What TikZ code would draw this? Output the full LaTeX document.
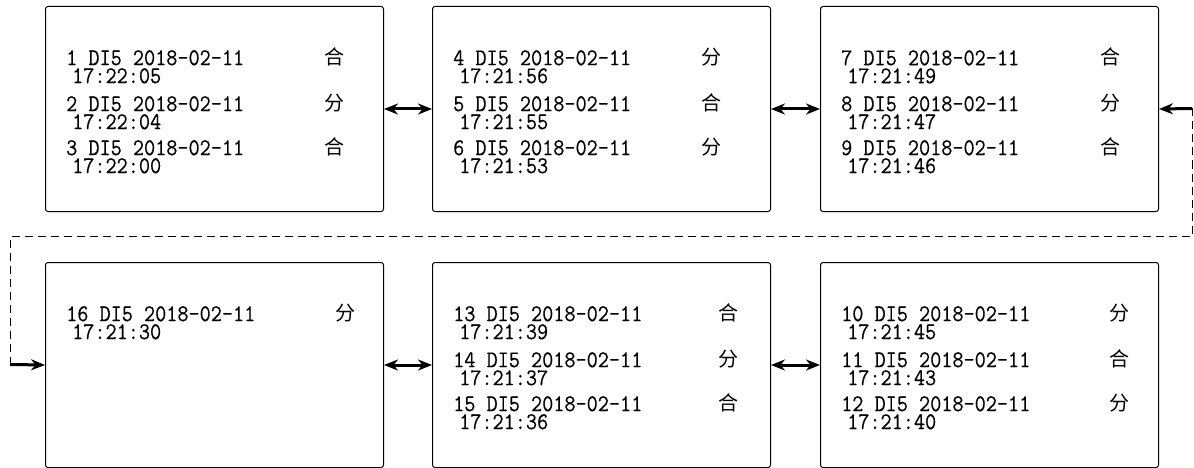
\documentclass[tikz,border=0pt]{standalone}
\usepackage{fontspec}
\newfontfamily\cjk{Noto Sans CJK SC}
\newfontfamily\recmono[FakeStretch=0.9,FakeBold=0.3]{Latin Modern Mono}
\usetikzlibrary{arrows.meta}
\tikzset{
  panel/.style={draw=black, line width=1pt, rounded corners=2.5pt, anchor=north west,
    minimum width=338pt, minimum height=205pt, inner sep=0pt},
  rec/.style={anchor=north west, inner sep=0pt, align=left,
    font=\fontsize{24}{18}\selectfont\recmono},
  st/.style={anchor=center, inner sep=0pt, font=\fontsize{20}{20}\selectfont\cjk},
  link/.style={line width=3pt, {Stealth[length=14pt,width=11pt]}-{Stealth[length=14pt,width=11pt]}},
  feed/.style={line width=0.9pt, dash pattern=on 8pt off 5pt},
  tip/.style={line width=3pt, -{Stealth[length=14pt,width=11pt]}}
}
\newcommand{\tm}[1]{\\\hspace*{6pt}#1}
\begin{document}
\begin{tikzpicture}[x=1pt,y=-1pt]
\useasboundingbox (0,0) rectangle (1194,468);
% panels
\node[panel] (b1) at (45,6) {};
\node[panel] (b2) at (432,6) {};
\node[panel] (b3) at (820,6) {};
\node[panel] (b4) at (45,262) {};
\node[panel] (b5) at (432,262) {};
\node[panel] (b6) at (820,262) {};
% box 1
\node[rec] (r1) at (66,50) {1 DI5 2018-02-11\tm{17:22:05}};
\node[st] (s1) at (334,57) {合};
\node[rec] (r2) at (66,96) {2 DI5 2018-02-11\tm{17:22:04}};
\node[st] (s2) at (334,103) {分};
\node[rec] (r3) at (66,140) {3 DI5 2018-02-11\tm{17:22:00}};
\node[st] (s3) at (334,147) {合};
% box 2
\node[rec] (r4) at (453,50) {4 DI5 2018-02-11\tm{17:21:56}};
\node[st] (s4) at (711,57) {分};
\node[rec] (r5) at (453,96) {5 DI5 2018-02-11\tm{17:21:55}};
\node[st] (s5) at (711,103) {合};
\node[rec] (r6) at (453,140) {6 DI5 2018-02-11\tm{17:21:53}};
\node[st] (s6) at (711,147) {分};
% box 3
\node[rec] (r7) at (841,50) {7 DI5 2018-02-11\tm{17:21:49}};
\node[st] (s7) at (1110,57) {合};
\node[rec] (r8) at (841,96) {8 DI5 2018-02-11\tm{17:21:47}};
\node[st] (s8) at (1110,103) {分};
\node[rec] (r9) at (841,140) {9 DI5 2018-02-11\tm{17:21:46}};
\node[st] (s9) at (1110,147) {合};
% box 16
\node[rec] (r16) at (66,306) {16 DI5 2018-02-11\tm{17:21:30}};
\node[st] (s16) at (345,313) {分};
% box 13
\node[rec] (r13) at (453,306) {13 DI5 2018-02-11\tm{17:21:39}};
\node[st] (s13) at (728,313) {合};
\node[rec] (r14) at (453,352) {14 DI5 2018-02-11\tm{17:21:37}};
\node[st] (s14) at (728,359) {分};
\node[rec] (r15) at (453,396) {15 DI5 2018-02-11\tm{17:21:36}};
\node[st] (s15) at (728,403) {合};
% box 10
\node[rec] (r10) at (841,306) {10 DI5 2018-02-11\tm{17:21:45}};
\node[st] (s10) at (1119,313) {分};
\node[rec] (r11) at (841,352) {11 DI5 2018-02-11\tm{17:21:43}};
\node[st] (s11) at (1119,359) {合};
\node[rec] (r12) at (841,396) {12 DI5 2018-02-11\tm{17:21:40}};
\node[st] (s12) at (1119,403) {分};
% links
\draw[link] (b1.east) -- (b2.west);
\draw[link] (b2.east) -- (b3.west);
\draw[link] (b4.east) -- (b5.west);
\draw[link] (b5.east) -- (b6.west);
% feedback path
\coordinate (p1) at (1192,108.5);
\coordinate (p2) at (1192,236);
\coordinate (p3) at (10,236);
\coordinate (p4) at (10,364.5);
\draw[tip] (p1) -- (b3.east);
\draw[feed] (p1) -- (p2) -- (p3) -- (p4);
\draw[tip] (p4) -- (b4.west);
\end{tikzpicture}
\end{document}
